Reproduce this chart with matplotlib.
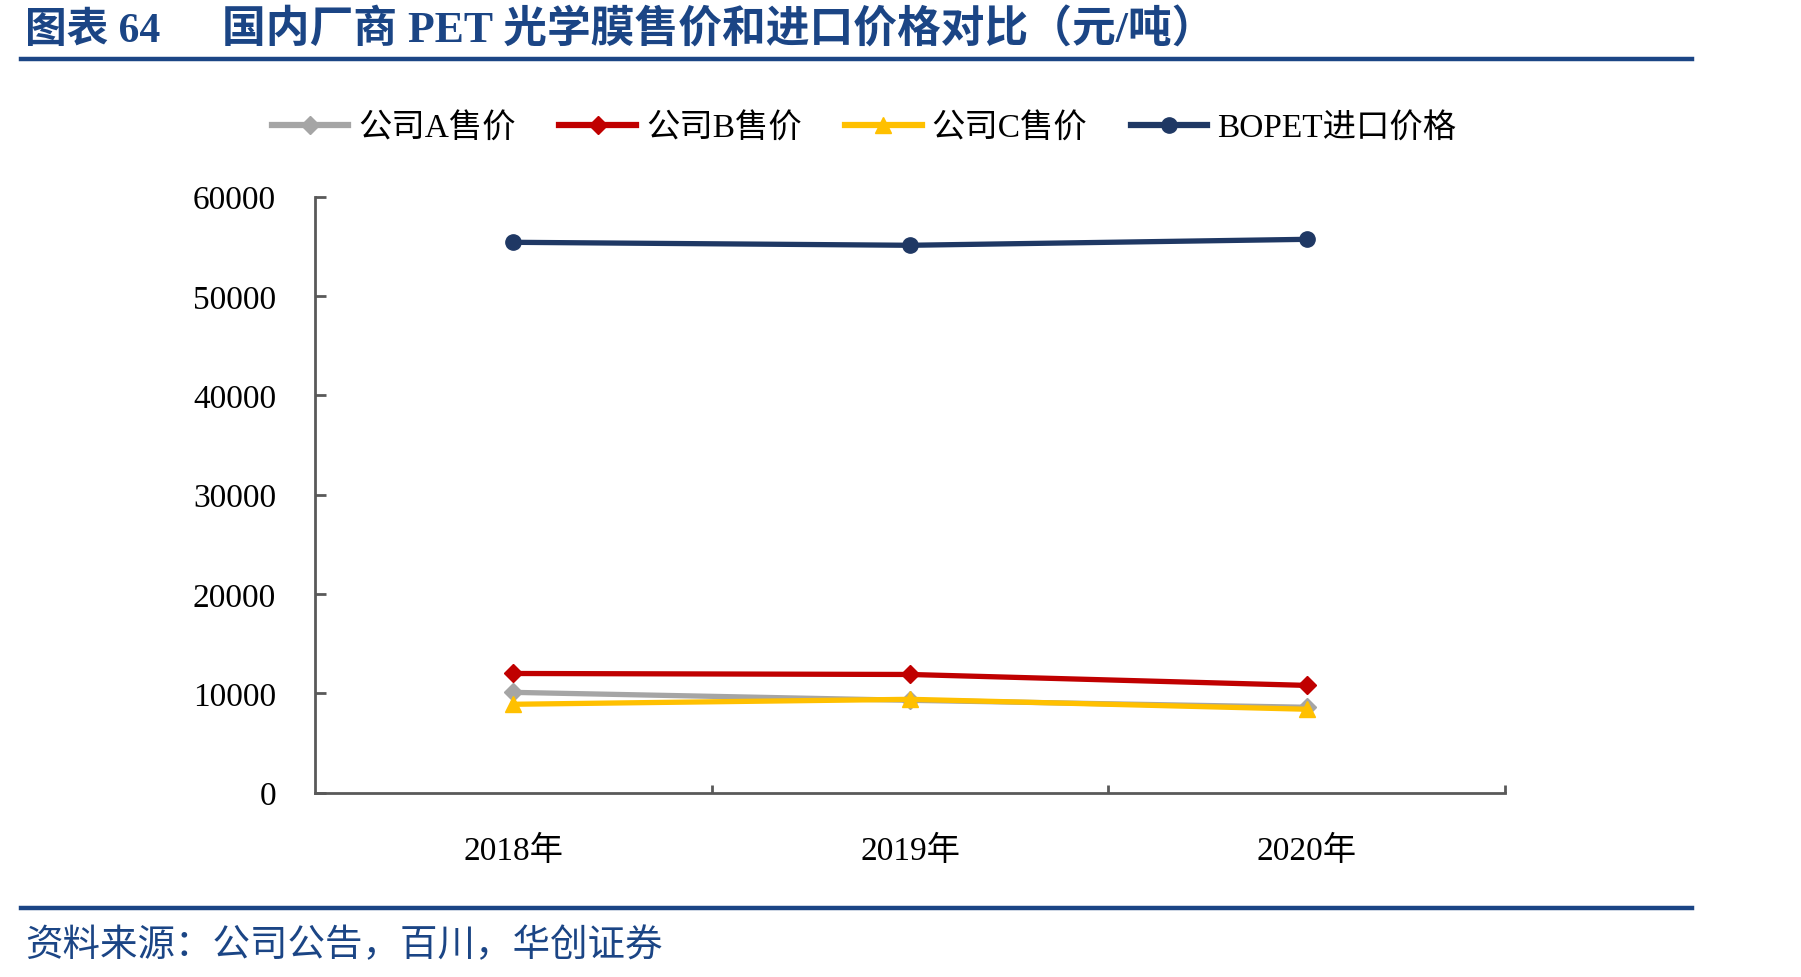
import matplotlib
matplotlib.use("Agg")
import matplotlib.pyplot as plt
from matplotlib.lines import Line2D

plt.rcParams['font.family'] = ['Liberation Serif', 'Noto Sans CJK SC']

categories = ["2018年", "2019年", "2020年"]
series_names = ["公司A售价", "公司B售价", "公司C售价", "BOPET进口价格"]
company_a = [10100, 9300, 8600]
company_b = [12000, 11900, 10800]
company_c = [8900, 9400, 8400]
bopet_import = [55400, 55100, 55700]
y_ticks = [0, 10000, 20000, 30000, 40000, 50000, 60000]

title_label = "图表 64"
title = "国内厂商 PET 光学膜售价和进口价格对比（元/吨）"
source = "资料来源：公司公告，百川，华创证券"

W, H = 1801, 978
fig = plt.figure(figsize=(W / 100, H / 100), dpi=100)
fig.patch.set_facecolor("white")

blue = "#1B4585"

# title & rules
fig.text(25 / W, 1 - 31 / H, title_label, fontsize=30, fontweight="bold", color=blue,
         va="center", ha="left")
fig.text(222 / W, 1 - 31 / H, title, fontsize=31.5, fontweight="bold", color=blue,
         va="center", ha="left")
fig.add_artist(Line2D([21 / W, 1692 / W], [1 - 60 / H, 1 - 60 / H], color=blue, lw=3.2))
fig.add_artist(Line2D([21 / W, 1692 / W], [1 - 909 / H, 1 - 909 / H], color=blue, lw=3.2))
fig.text(25 / W, 1 - 946 / H, source, fontsize=27, color=blue, va="center", ha="left",
         style="italic")

left, right = 315 / W, 1505 / W
bottom, top = 1 - 793.7 / H, 1 - 197.6 / H
ax = fig.add_axes([left, bottom, right - left, top - bottom])

x = list(range(len(categories)))
styles = [
    (company_a, "#A5A5A5", "D", 9),
    (company_b, "#C00000", "D", 9),
    (company_c, "#FFC000", "^", 11),
    (bopet_import, "#1F3864", "o", 11),
]
handles = []
for (vals, col, mk, ms), name in zip(styles, series_names):
    h, = ax.plot(x, vals, color=col, lw=3.8, marker=mk, markersize=ms,
                 markeredgecolor=col, markerfacecolor=col, label=name)
    handles.append(h)

ax.set_xlim(-0.5, len(categories) - 0.5)
ax.set_ylim(0, 60000)
ax.set_yticks(y_ticks)
ax.set_yticklabels([str(v) for v in y_ticks], fontsize=24)
ax.set_xticks(x)
ax.set_xticklabels(categories, fontsize=24)
ax.set_xticks([0.5, 1.5, 2.5], minor=True)

for s in ["top", "right"]:
    ax.spines[s].set_visible(False)
for s in ["left", "bottom"]:
    ax.spines[s].set_color("#595959")
    ax.spines[s].set_linewidth(2)

ax.tick_params(axis="y", direction="in", length=8, width=2, color="#595959", pad=28)
ax.tick_params(axis="x", which="major", length=0, pad=30)
ax.tick_params(axis="x", which="minor", direction="in", length=6, width=2, color="#595959")

leg = fig.legend(handles=handles, loc="center", bbox_to_anchor=(864 / W, 1 - 129 / H),
                 ncol=4, frameon=False, fontsize=24, handlelength=2.3, handletextpad=0.3,
                 columnspacing=1.3)
for lh in leg.get_lines():
    lh.set_linewidth(4.5)

fig.savefig("out.png", dpi=100, facecolor="white")
